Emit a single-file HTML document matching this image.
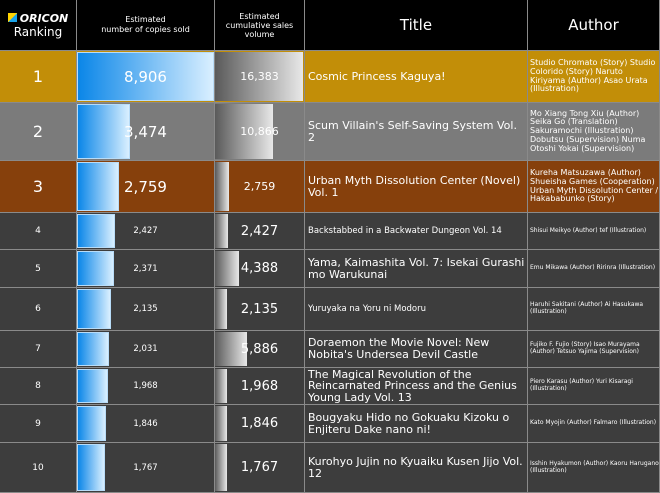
<!DOCTYPE html>
<html><head><style>
body{margin:0;width:660px;height:493px;background:#3d3d3d;font-family:"DejaVu Sans","Liberation Sans",sans-serif;color:#fff;overflow:hidden;position:relative}
.c{position:absolute;box-sizing:border-box;border-right:1px solid #8a8a8a;border-bottom:1px solid #8a8a8a;overflow:hidden}
.h{background:#000;text-align:center;display:flex;align-items:center;justify-content:center}
.v{display:flex;align-items:center}
.bb{position:absolute;left:0;top:1px;bottom:1px;background:linear-gradient(90deg,#0a86e8,#d9efff);border:1px solid #b8dcf8;box-sizing:border-box}
.gb{position:absolute;left:0;top:1px;bottom:1px;background:linear-gradient(90deg,#5a5a5a,#e8e8e8)}
.n{position:absolute;left:0;right:0;top:0;bottom:0;display:flex;align-items:center;justify-content:center}
</style></head><body>
<div class="c h" style="left:0;top:0;width:77px;height:51px;flex-direction:column;font-size:12px"><div style="font-weight:bold;font-style:italic;font-size:11px"><span style="display:inline-block;width:9px;height:9px;background:linear-gradient(135deg,#ffd400 50%,#1aa3e8 50%);margin-right:3px"></span>ORICON</div><div style="font-size:12px">Ranking</div></div>
<div class="c h" style="left:77px;top:0;width:138px;height:51px;font-size:8px;line-height:10px">Estimated<br>number of copies sold</div>
<div class="c h" style="left:215px;top:0;width:90px;height:51px;font-size:8px;line-height:9px">Estimated<br>cumulative sales<br>volume</div>
<div class="c h" style="left:305px;top:0;width:223px;height:51px;font-size:15px">Title</div>
<div class="c h" style="left:528px;top:0;width:132px;height:51px;font-size:15px">Author</div>
<div id="rows"></div>
<script>
var R=[
[51,52,"#c28e08","1","8,906",137,"16,383",88,"Cosmic Princess Kaguya!","Studio Chromato (Story) Studio Colorido (Story) Naruto Kiriyama (Author) Asao Urata (Illustration)",1,11],
[103,58,"#7b7b7b","2","3,474",53,"10,866",58,"Scum Villain's Self-Saving System Vol. 2","Mo Xiang Tong Xiu (Author) Seika Go (Translation) Sakuramochi (Illustration) Dobutsu (Supervision) Numa Otoshi Yokai (Supervision)",1,11],
[161,52,"#86400c","3","2,759",42,"2,759",14,"Urban Myth Dissolution Center (Novel) Vol. 1","Kureha Matsuzawa (Author) Shueisha Games (Cooperation) Urban Myth Dissolution Center / Hakababunko (Story)",1,11],
[213,37,"#3d3d3d","4","2,427",38,"2,427",13,"Backstabbed in a Backwater Dungeon Vol. 14","Shisui Meikyo (Author) tef (Illustration)",0,8.5],
[250,38,"#3d3d3d","5","2,371",37,"4,388",24,"Yama, Kaimashita Vol. 7: Isekai Gurashi mo Warukunai","Emu Mikawa (Author) Ririnra (Illustration)",0,11],
[288,43,"#3d3d3d","6","2,135",34,"2,135",12,"Yuruyaka na Yoru ni Modoru","Haruhi Sakitani (Author) Ai Hasukawa (Illustration)",0,8.5],
[331,37,"#3d3d3d","7","2,031",32,"5,886",32,"Doraemon the Movie Novel: New Nobita's Undersea Devil Castle","Fujiko F. Fujio (Story) Isao Murayama (Author) Tetsuo Yajima (Supervision)",0,11],
[368,37,"#3d3d3d","8","1,968",31,"1,968",12,"The Magical Revolution of the Reincarnated Princess and the Genius Young Lady Vol. 13","Piero Karasu (Author) Yuri Kisaragi (Illustration)",0,11],
[405,38,"#3d3d3d","9","1,846",29,"1,846",12,"Bougyaku Hido no Gokuaku Kizoku o Enjiteru Dake nano ni!","Kato Myojin (Author) Falmaro (Illustration)",0,11],
[443,50,"#3d3d3d","10","1,767",28,"1,767",12,"Kurohyo Jujin no Kyuaiku Kusen Jijo Vol. 12","Isshin Hyakumon (Author) Kaoru Harugano (Illustration)",0,11]];
var h="";
R.forEach(function(r){var t=r[0],H=r[1],bg=r[2],top=r[10],tl=r[11];
h+='<div class="c v" style="left:0;top:'+t+'px;width:77px;height:'+H+'px;background:'+bg+';justify-content:center;font-size:'+(top?16:9)+'px">'+r[3]+'</div>';
h+='<div class="c" style="left:77px;top:'+t+'px;width:138px;height:'+H+'px;background:'+bg+'"><div class="bb" style="width:'+r[5]+'px"></div><div class="n" style="font-size:'+(top?15:8.5)+'px">'+r[4]+'</div></div>';
h+='<div class="c" style="left:215px;top:'+t+'px;width:90px;height:'+H+'px;background:'+bg+'"><div class="gb" style="width:'+r[7]+'px"></div><div class="n" style="font-size:'+(top?11:13)+'px">'+r[6]+'</div></div>';
h+='<div class="c v" style="left:305px;top:'+t+'px;width:223px;height:'+H+'px;background:'+bg+';padding-left:3px;padding-right:2px;font-size:'+tl+'px;line-height:1.05">'+r[8]+'</div>';
h+='<div class="c v" style="left:528px;top:'+t+'px;width:132px;height:'+H+'px;background:'+bg+';padding-left:2px;font-size:'+(top?8:6)+'px;line-height:1.1">'+r[9]+'</div>';
});
document.getElementById("rows").innerHTML=h;
</script>
</body></html>
